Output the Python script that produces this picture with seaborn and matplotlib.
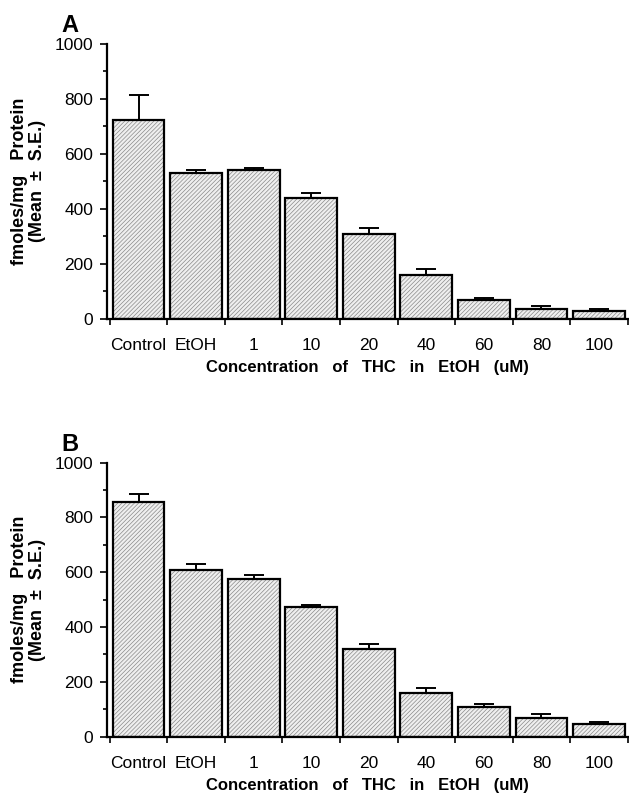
import numpy as np
import pandas as pd
import matplotlib
matplotlib.use('Agg')
import matplotlib.pyplot as plt
import seaborn as sns

# --- data ---
categories = ['Control', 'EtOH', '1', '10', '20', '40', '60', '80', '100']
mean_a = [725, 530, 542, 439, 309, 160, 69, 35, 28]
se_a = [90, 13, 8, 20, 20, 22, 6, 13, 6]
mean_b = [858, 610, 577, 474, 320, 160, 109, 67, 47]
se_b = [26, 20, 14, 8, 19, 19, 11, 15, 7]

sns.set_style('ticks')
plt.rcParams['font.family'] = ['Liberation Sans', 'DejaVu Sans']
plt.rcParams['hatch.linewidth'] = 0.5
for k in ['text.color', 'axes.labelcolor', 'xtick.color', 'ytick.color', 'axes.edgecolor']:
    plt.rcParams[k] = 'black'

fig = plt.figure(figsize=(6.29, 7.99), dpi=100)
ax_a = fig.add_axes([0.170, 0.601, 0.828, 0.344])
ax_b = fig.add_axes([0.170, 0.078, 0.828, 0.343])


def draw_panel(ax, means, ses, letter):
    df = pd.DataFrame({'conc': categories, 'val': means})
    sns.barplot(data=df, x='conc', y='val', ax=ax, color='#efefef',
                edgecolor='black', linewidth=1.6, width=0.9, saturation=1)
    for p in ax.patches:
        p.set_hatch('////////')
        # hatch lines in mid grey, outline stays black
        if hasattr(p, 'set_hatchcolor'):
            p.set_hatchcolor('#8a8a8a')
        else:
            p._hatch_color = matplotlib.colors.to_rgba('#8a8a8a')
        p.set_zorder(2)
    x = np.arange(len(categories))
    ax.errorbar(x, means, yerr=[np.zeros(len(ses)), ses], fmt='none',
                ecolor='black', elinewidth=1.4, capsize=7, capthick=1.4, zorder=1)
    ax.set_xlim(-0.55, 8.5)
    ax.set_ylim(0, 1000)
    ax.set_yticks(range(0, 1001, 200))
    ax.set_yticks(range(100, 1000, 200), minor=True)
    ax.set_xticks(x)
    ax.set_xticklabels(categories, fontsize=12.5)
    ax.set_xticks(np.arange(-0.5, 8.6, 1), minor=True)
    ax.tick_params(axis='x', which='major', length=0, pad=14)
    ax.tick_params(axis='x', which='minor', length=4, width=1.2, direction='out')
    ax.tick_params(axis='y', which='major', length=5, width=1.2, labelsize=12.5, pad=5)
    ax.tick_params(axis='y', which='minor', length=3, width=1.2)
    for s in ['top', 'right']:
        ax.spines[s].set_visible(False)
    for s in ['left', 'bottom']:
        ax.spines[s].set_linewidth(1.6)
    ax.set_xlabel('Concentration   of   THC   in   EtOH   (uM)', fontsize=12,
                  fontweight='bold', labelpad=5)
    ax.set_ylabel('fmoles/mg   Protein\n(Mean  \u00b1  S.E.)', fontsize=13,
                  fontweight='bold', labelpad=6, linespacing=1.05)
    ax.text(-0.055, 1.025, letter, transform=ax.transAxes, fontsize=17,
            fontweight='bold', ha='right', va='bottom')


draw_panel(ax_a, mean_a, se_a, 'A')
draw_panel(ax_b, mean_b, se_b, 'B')

fig.savefig('out.png', dpi=100)
